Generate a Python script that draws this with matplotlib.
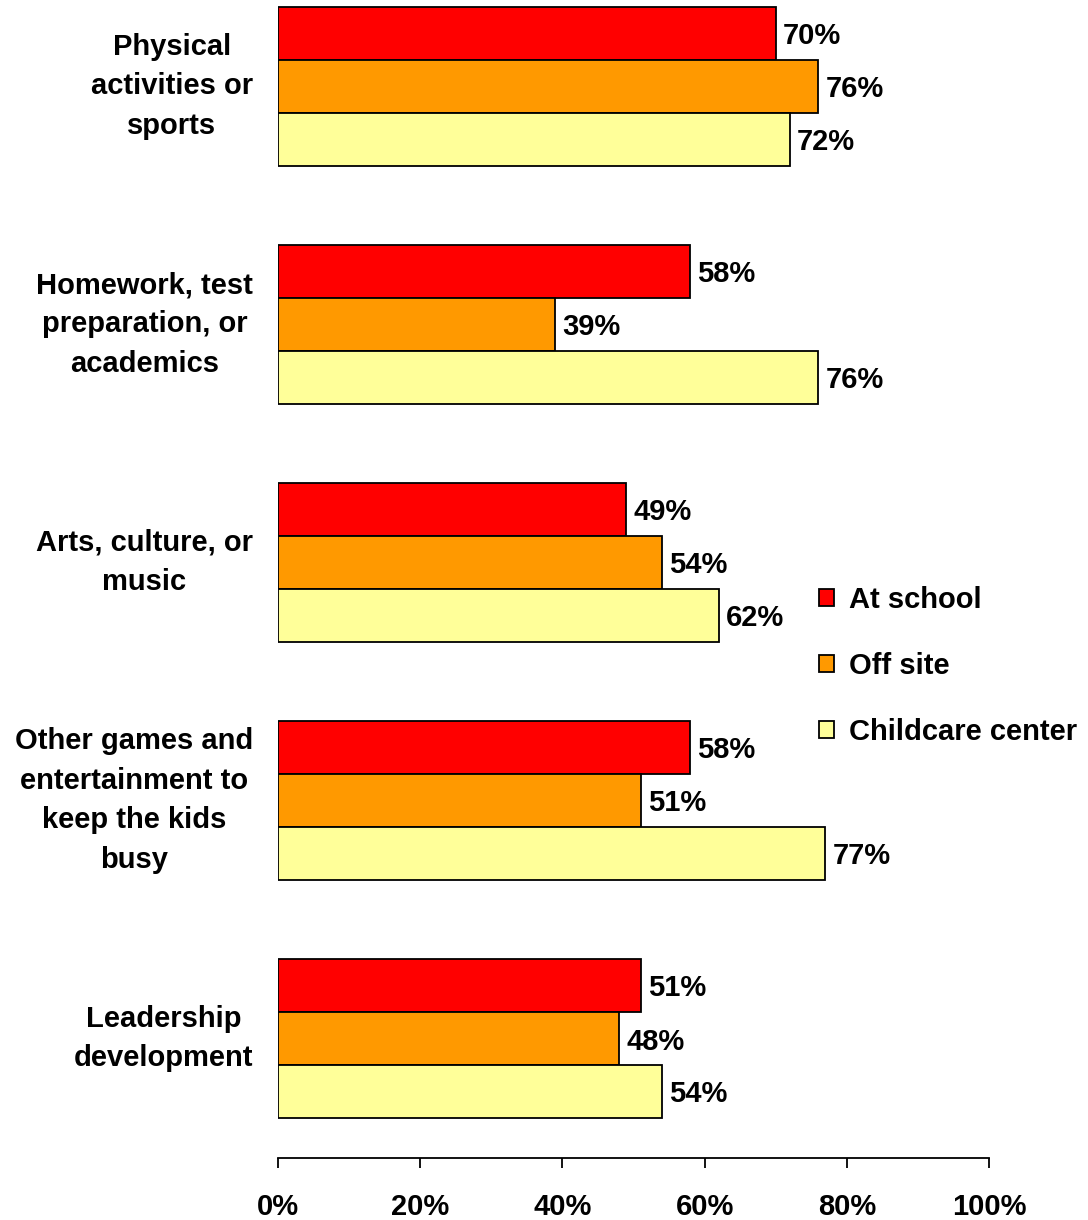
import matplotlib
matplotlib.use("Agg")
import matplotlib.pyplot as plt
import matplotlib.transforms as mtransforms
from matplotlib.patches import Patch
import numpy as np

plt.rcParams['font.family'] = ['Liberation Sans', 'DejaVu Sans']
plt.rcParams['font.weight'] = 'bold'

categories = ["Physical\nactivities or\nsports",
              "Homework, test\npreparation, or\nacademics",
              "Arts, culture, or\nmusic",
              "Other games and\nentertainment to\nkeep the kids\nbusy",
              "Leadership\ndevelopment"]
series_names = ["At school", "Off site", "Childcare center"]
at_school = [70, 58, 49, 58, 51]
off_site = [76, 39, 54, 51, 48]
childcare = [72, 76, 62, 77, 54]
colors = ["#FF0000", "#FF9900", "#FFFF99"]
xticks = [0, 20, 40, 60, 80, 100]

W, H = 1088, 1220
fig = plt.figure(figsize=(W/100, H/100), dpi=100)
ax = fig.add_axes([278/W, 62.5/H, (989-278)/W, 1157.5/H])

bh = 53/238.0
y = np.arange(len(categories))
FS = 21
for k, (vals, c) in enumerate(zip([at_school, off_site, childcare], colors)):
    pos = y + (k-1)*bh
    ax.barh(pos, vals, height=bh, color=c, edgecolor='black', linewidth=1.3)
    for p, v in zip(pos, vals):
        ax.text(v + 1.0, p, f"{v}%", va='center_baseline', ha='left', fontsize=FS, fontweight='bold')

ax.set_xlim(0, 100)
ax.set_ylim(4.5, -86.5/238.0)
ax.set_yticks(y)
ax.set_yticklabels(categories, fontsize=FS, fontweight='bold', multialignment='center', linespacing=1.52)
offset = mtransforms.ScaledTranslation(0, -0.03, fig.dpi_scale_trans)
for lbl in ax.get_yticklabels():
    lbl.set_va('center')
    lbl.set_transform(lbl.get_transform() + offset)
ax.tick_params(axis='y', length=0, pad=18)
ax.set_xticks(xticks)
ax.set_xticklabels([f"{t}%" for t in xticks], fontsize=FS, fontweight='bold')
ax.tick_params(axis='x', length=7.5, width=1.3, direction='out', pad=18)
for s in ['top', 'right', 'left']:
    ax.spines[s].set_visible(False)
ax.spines['bottom'].set_linewidth(1.3)

handles = [Patch(facecolor=c, edgecolor='black', linewidth=1.3) for c in colors]
fig.legend(handles, series_names, loc='center left', bbox_to_anchor=(819/W, 1-666/H),
           frameon=False, prop={'weight': 'bold', 'size': FS},
           handlelength=0.52, handleheight=0.52, handletextpad=0.5, labelspacing=1.3,
           borderpad=0, borderaxespad=0)

fig.savefig("out.png", dpi=100)
